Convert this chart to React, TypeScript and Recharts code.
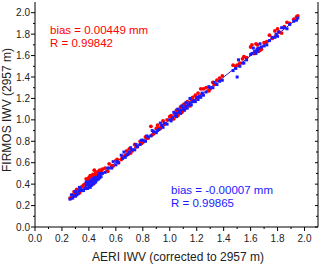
import {
  ScatterChart,
  Scatter,
  XAxis,
  YAxis,
  ReferenceLine,
  Label,
} from "recharts";

const FONT = "Arial, 'Liberation Sans', sans-serif";
const RED = "#ff0000";
const BLUE = "#1a1aff";
const FIT = "#3c1aa8";

// AERI IWV (corrected to 2957 m), mm
const aeri = [
  0.26, 0.27, 0.28, 0.29, 0.3, 0.31, 0.32, 0.33, 0.34, 0.35, 0.3, 0.33,
  0.36, 0.37, 0.38, 0.38, 0.39, 0.4, 0.4, 0.41, 0.41, 0.42, 0.42, 0.43, 0.43, 0.44, 0.44,
  0.45, 0.45, 0.46, 0.46, 0.47, 0.47, 0.48, 0.48, 0.49, 0.5, 0.39, 0.43, 0.45, 0.41, 0.47,
  0.52, 0.54, 0.55, 0.57, 0.58, 0.6, 0.61, 0.62, 0.64, 0.65, 0.66, 0.67, 0.68, 0.69, 0.7,
  0.71, 0.72, 0.74, 0.75, 0.76, 0.78, 0.79, 0.8, 0.82, 0.83, 0.84, 0.86, 0.87, 0.88, 0.9,
  0.91, 0.92, 0.93, 0.94, 0.95, 0.96, 0.98, 1.0,
  1.01, 1.02, 1.03, 1.04, 1.05, 1.05, 1.06, 1.07, 1.08, 1.08, 1.09, 1.1, 1.1, 1.11, 1.12,
  1.12, 1.13, 1.14, 1.15, 1.15, 1.16, 1.17, 1.18, 1.19, 1.2, 1.21, 1.22, 1.23, 1.24, 1.25,
  1.27, 1.29, 1.3, 1.32, 1.33, 1.35, 1.37, 1.39, 1.5,
  1.47, 1.49, 1.51, 1.52, 1.54, 1.55, 1.57,
  1.6, 1.61, 1.62, 1.63, 1.64, 1.65, 1.65, 1.66, 1.67, 1.68, 1.7, 1.72,
  1.74, 1.76, 1.78, 1.79, 1.8, 1.81, 1.83, 1.85, 1.87, 1.89,
  1.92, 1.94, 1.95,
];

// FIRMOS IWV (2957 m), red retrieval
const firmosRed = [
  0.27, 0.27, 0.3, 0.33, 0.29, 0.35, 0.34, 0.32, 0.34, 0.38, 0.31, 0.32,
  0.39, 0.4, 0.36, 0.45, 0.41, 0.46, 0.41, 0.48, 0.43, 0.47, 0.43, 0.49, 0.41, 0.53, 0.45,
  0.5, 0.47, 0.51, 0.47, 0.52, 0.49, 0.53, 0.49, 0.52, 0.54, 0.44, 0.4, 0.48, 0.43, 0.48,
  0.55, 0.52, 0.59, 0.57, 0.57, 0.62, 0.63, 0.6, 0.63, 0.65, 0.66, 0.67, 0.71, 0.68, 0.73,
  0.69, 0.71, 0.77, 0.75, 0.75, 0.8, 0.78, 0.79, 0.84, 0.83, 0.83, 0.94, 0.86, 0.87, 0.92,
  0.95, 0.92, 0.92, 0.94, 0.99, 0.96, 1.0, 1.03,
  1.04, 1.01, 1.01, 1.05, 1.09, 1.04, 1.04, 1.08, 1.12, 1.07, 1.07, 1.14, 1.09, 1.15, 1.12,
  1.11, 1.17, 1.14, 1.13, 1.14, 1.19, 1.21, 1.18, 1.23, 1.2, 1.25, 1.22, 1.29, 1.24, 1.29,
  1.3, 1.27, 1.29, 1.35, 1.33, 1.37, 1.39, 1.41, 1.51,
  1.51, 1.5, 1.51, 1.53, 1.57, 1.59, 1.58,
  1.68, 1.7, 1.62, 1.62, 1.71, 1.66, 1.7, 1.64, 1.65, 1.66, 1.72, 1.73,
  1.79, 1.76, 1.83, 1.79, 1.85, 1.82, 1.81, 1.87, 1.91, 1.9,
  1.94, 1.96, 1.97,
];

// FIRMOS IWV (2957 m), blue retrieval
const firmosBlue = [
  0.26, 0.3, 0.27, 0.29, 0.33, 0.3, 0.31, 0.37, 0.35, 0.34, 0.29, 0.34,
  0.34, 0.36, 0.42, 0.39, 0.36, 0.38, 0.42, 0.39, 0.42, 0.39, 0.44, 0.41, 0.44, 0.41, 0.46,
  0.42, 0.46, 0.44, 0.45, 0.45, 0.48, 0.46, 0.5, 0.47, 0.5, 0.4, 0.45, 0.43, 0.37, 0.45,
  0.51, 0.55, 0.55, 0.55, 0.61, 0.58, 0.61, 0.6, 0.67, 0.64, 0.7, 0.65, 0.67, 0.68, 0.7,
  0.74, 0.72, 0.72, 0.77, 0.75, 0.77, 0.81, 0.81, 0.8, 0.85, 0.84, 0.85, 0.9, 0.89, 0.88,
  0.9, 0.91, 0.97, 0.95, 0.93, 0.97, 0.96, 1.0,
  0.99, 1.02, 1.07, 1.04, 1.03, 1.06, 1.1, 1.07, 1.06, 1.09, 1.13, 1.1, 1.11, 1.09, 1.16,
  1.13, 1.11, 1.14, 1.2, 1.16, 1.14, 1.17, 1.18, 1.17, 1.21, 1.19, 1.22, 1.21, 1.25, 1.23,
  1.26, 1.31, 1.3, 1.3, 1.35, 1.33, 1.36, 1.37, 1.4,
  1.46, 1.48, 1.56, 1.5, 1.53, 1.53, 1.56,
  1.61, 1.62, 1.67, 1.64, 1.62, 1.66, 1.64, 1.67, 1.71, 1.68, 1.69, 1.7,
  1.74, 1.77, 1.77, 1.8, 1.78, 1.82, 1.86, 1.86, 1.85, 1.89,
  1.92, 1.93, 1.95,
];

const TICKS = [
  0, 0.1, 0.2, 0.3, 0.4, 0.5, 0.6, 0.7, 0.8, 0.9, 1.0, 1.1, 1.2, 1.3, 1.4, 1.5, 1.6, 1.7,
  1.8, 1.9, 2.0,
];

const redData = aeri.map((x, i) => ({ x, y: firmosRed[i] }));
const blueData = aeri.map((x, i) => ({ x, y: firmosBlue[i] }));

const isMajor = (v: number) => Math.round(v * 10) % 2 === 0;

const BottomTick = (props: any) => {
  const { x, y, payload } = props;
  const major = isMajor(payload.value);
  return (
    <g>
      <line x1={x} y1={y} x2={x} y2={y + (major ? 4 : 2)} stroke="#000" />
      {major && (
        <text x={x} y={y + 15} textAnchor="middle" fontSize={10} fontFamily={FONT} fill="#222">
          {payload.value.toFixed(1)}
        </text>
      )}
    </g>
  );
};

const LeftTick = (props: any) => {
  const { x, y, payload } = props;
  const major = isMajor(payload.value);
  return (
    <g>
      <line x1={x} y1={y} x2={x - (major ? 4 : 2)} y2={y} stroke="#000" />
      {major && (
        <text x={x - 5} y={y + 3.5} textAnchor="end" fontSize={10} fontFamily={FONT} fill="#222">
          {payload.value.toFixed(1)}
        </text>
      )}
    </g>
  );
};

const TopTick = (props: any) => {
  const { x, y, payload } = props;
  return <line x1={x} y1={y} x2={x} y2={y + (isMajor(payload.value) ? 3 : 2)} stroke="#000" />;
};

const RightTick = (props: any) => {
  const { x, y, payload } = props;
  return <line x1={x} y1={y} x2={x - (isMajor(payload.value) ? 3 : 2)} y2={y} stroke="#000" />;
};

const redDot = (props: any) => <circle cx={props.cx} cy={props.cy} r={1.9} fill={RED} />;
const blueDot = (props: any) => (
  <rect x={props.cx - 1.5} y={props.cy - 1.5} width={3} height={3} fill={BLUE} />
);

export default function App() {
  return (
    <div style={{ position: "relative", width: 320, height: 264 }}>
      <style>{"body{margin:0}"}</style>
      <ScatterChart width={320} height={264} margin={{ top: 2, right: 0, bottom: 0, left: 0 }}>
        <XAxis
          xAxisId="b"
          type="number"
          dataKey="x"
          domain={[0, 2.1]}
          ticks={TICKS}
          interval={0}
          height={37}
          tickSize={0}
          tickMargin={0}
          tickLine={false}
          axisLine={{ stroke: "#000" }}
          tick={BottomTick}
          allowDataOverflow
        >
          <Label
            content={() => (
              <text x={178} y={261} textAnchor="middle" fontSize={12} fontFamily={FONT} fill="#222">
                AERI IWV (corrected to 2957 m)
              </text>
            )}
          />
        </XAxis>
        <XAxis
          xAxisId="t"
          orientation="top"
          type="number"
          domain={[0, 2.1]}
          ticks={TICKS}
          interval={0}
          height={0}
          tickSize={0}
          tickMargin={0}
          tickLine={false}
          axisLine={{ stroke: "#000" }}
          tick={TopTick}
          allowDataOverflow
        />
        <YAxis
          yAxisId="l"
          type="number"
          dataKey="y"
          domain={[0, 2.1]}
          ticks={TICKS}
          interval={0}
          width={35}
          tickSize={0}
          tickMargin={0}
          tickLine={false}
          axisLine={{ stroke: "#000" }}
          tick={LeftTick}
          allowDataOverflow
        >
          <Label
            content={() => (
              <text
                x={0}
                y={0}
                transform="translate(10.5,110) rotate(-90)"
                textAnchor="middle"
                fontSize={12}
                fontFamily={FONT}
                fill="#222"
              >
                FIRMOS IWV (2957 m)
              </text>
            )}
          />
        </YAxis>
        <YAxis
          yAxisId="r"
          orientation="right"
          type="number"
          domain={[0, 2.1]}
          ticks={TICKS}
          interval={0}
          width={2}
          tickSize={0}
          tickMargin={0}
          tickLine={false}
          axisLine={{ stroke: "#000" }}
          tick={RightTick}
          allowDataOverflow
        />
        <Scatter
          xAxisId="b"
          yAxisId="l"
          data={redData}
          shape={redDot}
          isAnimationActive={false}
        />
        <Scatter
          xAxisId="b"
          yAxisId="l"
          data={blueData}
          shape={blueDot}
          isAnimationActive={false}
        />
        <ReferenceLine
          xAxisId="b"
          yAxisId="l"
          segment={[
            { x: 0.26, y: 0.262 },
            { x: 1.95, y: 1.948 },
          ]}
          stroke={FIT}
          strokeWidth={1}
        />
      </ScatterChart>
      <svg
        width={320}
        height={264}
        style={{ position: "absolute", left: 0, top: 0, pointerEvents: "none" }}
        fontFamily={FONT}
        fontSize={11.5}
      >
        <text x={50} y={34} fill={RED}>bias = 0.00449 mm</text>
        <text x={50} y={47} fill={RED}>R = 0.99842</text>
        <text x={171} y={194} fill={BLUE}>bias = -0.00007 mm</text>
        <text x={171} y={207} fill={BLUE}>R = 0.99865</text>
      </svg>
    </div>
  );
}
